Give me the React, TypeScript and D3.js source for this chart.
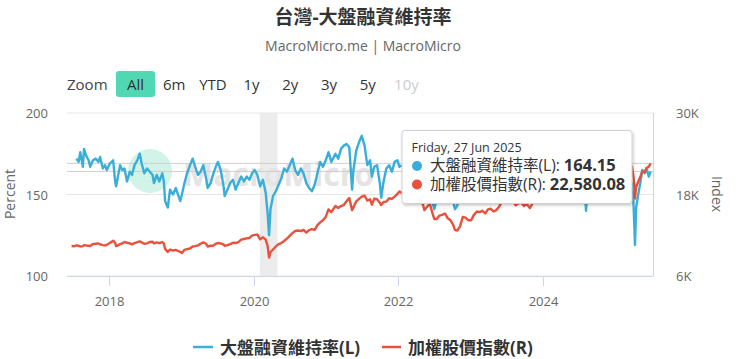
import React from 'react';
import * as d3 from 'd3';

const dates = [
  '2017-06-26','2017-07-10','2017-07-20','2017-08-01','2017-08-09','2017-08-22','2017-08-28','2017-09-07','2017-09-20','2017-09-28',
  '2017-10-12','2017-10-26','2017-11-09','2017-11-17','2017-12-01','2017-12-12','2017-12-21','2018-01-05','2018-01-22','2018-02-01',
  '2018-02-06','2018-02-15','2018-02-26','2018-03-09','2018-03-20','2018-04-02','2018-04-16','2018-04-27','2018-05-10','2018-05-24',
  '2018-06-05','2018-06-15','2018-06-28','2018-07-12','2018-07-26','2018-08-09','2018-08-16','2018-08-30','2018-09-12','2018-09-27',
  '2018-10-05','2018-10-11','2018-10-25','2018-11-05','2018-11-20','2018-12-04','2018-12-18','2018-12-27','2019-01-04','2019-01-17',
  '2019-01-30','2019-02-14','2019-02-27','2019-03-12','2019-03-26','2019-04-08','2019-04-22','2019-05-06','2019-05-14','2019-05-29',
  '2019-06-12','2019-06-24','2019-07-05','2019-07-19','2019-08-01','2019-08-08','2019-08-22','2019-09-05','2019-09-19','2019-10-02',
  '2019-10-16','2019-10-30','2019-11-13','2019-11-27','2019-12-11','2019-12-24','2020-01-07','2020-01-20','2020-02-03','2020-02-17',
  '2020-03-02','2020-03-12','2020-03-19','2020-03-26','2020-04-08','2020-04-22','2020-05-06','2020-05-20','2020-06-03','2020-06-17',
  '2020-07-01','2020-07-15','2020-07-29','2020-08-12','2020-08-26','2020-09-09','2020-09-23','2020-10-07','2020-10-21','2020-11-04',
  '2020-11-18','2020-12-02','2020-12-16','2020-12-30','2021-01-13','2021-01-27','2021-02-17','2021-03-03','2021-03-17','2021-03-31',
  '2021-04-14','2021-04-28','2021-05-12','2021-05-19','2021-06-02','2021-06-16','2021-06-30','2021-07-14','2021-07-28','2021-08-11',
  '2021-08-20','2021-09-01','2021-09-15','2021-09-29','2021-10-06','2021-10-18','2021-11-01','2021-11-15','2021-11-29','2021-12-13',
  '2021-12-27','2022-01-06','2022-01-20','2022-02-09','2022-02-24','2022-03-09','2022-03-23','2022-04-06','2022-04-20','2022-05-04',
  '2022-05-12','2022-05-26','2022-06-09','2022-06-20','2022-07-01','2022-07-13','2022-07-27','2022-08-10','2022-08-24','2022-09-07',
  '2022-09-21','2022-10-05','2022-10-13','2022-10-25','2022-11-08','2022-11-22','2022-12-06','2022-12-20','2023-01-03','2023-01-17',
  '2023-02-01','2023-02-15','2023-03-01','2023-03-15','2023-03-29','2023-04-12','2023-04-26','2023-05-10','2023-05-24','2023-06-07',
  '2023-06-21','2023-07-05','2023-07-19','2023-08-02','2023-08-16','2023-08-30','2023-09-13','2023-09-27','2023-10-11','2023-10-26',
  '2023-11-09','2023-11-22','2023-12-06','2023-12-20','2024-01-03','2024-01-17','2024-01-31','2024-02-19','2024-03-04','2024-03-18',
  '2024-04-01','2024-04-19','2024-05-02','2024-05-16','2024-05-30','2024-06-13','2024-06-27','2024-07-11','2024-07-25','2024-08-05',
  '2024-08-14','2024-08-28','2024-09-09','2024-09-23','2024-10-07','2024-10-21','2024-11-04','2024-11-18','2024-12-02','2024-12-16',
  '2024-12-30','2025-01-13','2025-01-24','2025-02-10','2025-02-24','2025-03-10','2025-03-24','2025-03-31','2025-04-07','2025-04-09',
  '2025-04-15','2025-04-24','2025-05-07','2025-05-16','2025-05-28','2025-06-06','2025-06-18','2025-06-27',
];

// 大盤融資維持率 (%), left axis
const marginRatio: (number | null)[] = [
  null, null, 172, 170, 176, 167, 178, 174, 171, 167,
  171, 172, 170, 173, 166, 168, 165, 169, 171, 158,
  155, 161, 168, 165, 166, 158, 164, 162, 168, 171,
  175, 169, 163, 166, 164, 162, 157, 162, 158, 163,
  158, 146, 142, 153, 150, 154, 149, 146, 150, 157,
  163, 168, 172, 167, 162, 164, 168, 160, 154, 157,
  163, 167, 170, 165, 156, 149, 153, 157, 159, 153,
  157, 161, 158, 161, 159, 163, 165, 162, 155, 159,
  151, 138, 125, 141, 149, 152, 156, 160, 166, 164,
  168, 172, 165, 162, 166, 163, 157, 154, 152, 156,
  163, 170, 167, 171, 176, 170, 175, 172, 178, 180,
  181, 179, 153, 165, 177, 182, 186, 180, 168, 171,
  161, 167, 168, 157, 148, 158, 166, 168, 164, 170,
  171, 167, 168, 164, 154, 156, 163, 159, 155, 150,
  146, 154, 155, 146, 141, 147, 153, 156, 158, 151,
  149, 146, 141, 143, 153, 162, 161, 157, 156, 163,
  166, 164, 166, 160, 164, 165, 161, 164, 168, 170,
  172, 169, 172, 168, 161, 164, 163, 159, 160, 156,
  163, 167, 168, 170, 168, 163, 167, 172, 174, 171,
  172, 157, 166, 172, 168, 172, 171, 176, 161, 140,
  156, 160, 155, 160, 164, 167, 164, 161, 163, 166,
  164, 160, 166, 163, 160, 154, 157, 149, 127, 119,
  142, 149, 158, 165, 163, 166, 161, 164.15,
];

// 加權股價指數, right axis
const taiex: number[] = [
  10420, 10380, 10500, 10450, 10350, 10400, 10550, 10500, 10450, 10400,
  10700, 10750, 10800, 10650, 10550, 10500, 10600, 10850, 11200, 10900,
  10400, 10500, 10700, 10800, 11000, 10900, 10800, 10650, 10850, 11000,
  11100, 10950, 10750, 10800, 11000, 11050, 10800, 10950, 10850, 11000,
  10800, 10000, 9550, 9900, 9750, 9850, 9650, 9550, 9380, 9850,
  9950, 10050, 10350, 10400, 10500, 10750, 10950, 10750, 10350, 10450,
  10500, 10750, 10850, 10800, 10650, 10450, 10550, 10700, 10900, 10850,
  11000, 11350, 11450, 11550, 11600, 11950, 12050, 12100, 11400, 11700,
  11350, 10400, 8700, 9500, 9900, 10350, 10700, 10850, 11150, 11500,
  11900, 12300, 12650, 12700, 12600, 12800, 12400, 12750, 12900, 12800,
  13500, 13900, 14200, 14700, 15800, 15400, 16300, 16000, 16300, 16450,
  17000, 17500, 15700, 16100, 17000, 17350, 17700, 17850, 17100, 17300,
  16500, 17400, 17300, 16800, 16450, 16900, 16950, 17450, 17350, 17700,
  18100, 18450, 18200, 18100, 17600, 17200, 17700, 17300, 16950, 16600,
  15700, 16200, 16600, 15400, 14400, 14400, 14900, 15000, 15200, 14500,
  14200, 13500, 12800, 12700, 13300, 14700, 14600, 14200, 14200, 15000,
  15500, 15400, 15600, 15200, 15800, 15900, 15500, 15700, 16200, 16900,
  17300, 16900, 17100, 17000, 16400, 16700, 16800, 16300, 16600, 16000,
  16700, 17350, 17300, 17600, 17650, 17300, 17900, 18800, 19600, 19800,
  20350, 19500, 20200, 21150, 21250, 22300, 22900, 24350, 22050, 19850,
  21400, 22350, 21000, 22150, 22700, 23400, 22800, 22600, 22500, 23000,
  23050, 22700, 23500, 23400, 23100, 22000, 22200, 20950, 19000, 17400,
  19100, 19800, 20700, 21400, 21300, 21900, 22100, 22580.08,
];

const leftTicks = [100, 150, 200];
const rightTicks = [6000, 18000, 30000];
const rightTickLabels = ['6K', '18K', '30K'];
const xTickDates = ['2018-01-01', '2020-01-01', '2022-01-01', '2024-01-01'];
const bandDates = ['2020-02-01', '2020-04-30'];
const rangeButtons = ['All', '6m', 'YTD', '1y', '2y', '3y', '5y', '10y'];
const tooltipDate = 'Friday, 27 Jun 2025';
const seriesNames = ['大盤融資維持率(L)', '加權股價指數(R)'];

const BLUE = '#38aed8';
const RED = '#e8523c';
const FONT = "'Open Sans', 'Noto Sans CJK TC', sans-serif";

export default function App() {
  const W = 740, H = 359;
  const X0 = 67, X1 = 653, Y0 = 113, Y1 = 276;
  const parse = d3.utcParse('%Y-%m-%d');
  const t = dates.map((d) => parse(d) as Date);
  const x = d3.scaleUtc().domain([parse('2017-06-03') as Date, parse('2025-07-09') as Date]).range([X0, X1]);
  const yL = d3.scaleLinear().domain([100, 200]).range([Y1, Y0]);
  const yR = d3.scaleLinear().domain([6000, 30000]).range([Y1, Y0]);

  const blueLine = d3.line<number>()
    .defined((i) => marginRatio[i] != null)
    .x((i) => x(t[i]))
    .y((i) => yL(marginRatio[i] as number));
  const redLine = d3.line<number>()
    .x((i) => x(t[i]))
    .y((i) => yR(taiex[i]));
  const idx = d3.range(dates.length);

  const lastBlue = marginRatio[marginRatio.length - 1] as number;
  const lastRed = taiex[taiex.length - 1];
  const fmt2 = d3.format(',.2f');

  const bx0 = x(parse(bandDates[0]) as Date);
  const bx1 = x(parse(bandDates[1]) as Date);

  return (
    <svg width={W} height={H} style={{ position: 'absolute', left: 0, top: 0, display: 'block', background: '#fff' }} fontFamily={FONT}>
      <defs>
        <filter id="tipShadow" x="-10%" y="-20%" width="130%" height="150%">
          <feDropShadow dx="1" dy="1.5" stdDeviation="1.6" floodColor="#000" floodOpacity="0.22" />
        </filter>
      </defs>

      {/* Title */}
      <text x={363} y={24} textAnchor="middle" fontSize={19} fontWeight={700} fill="#333">台灣-大盤融資維持率</text>
      <text x={363} y={51} textAnchor="middle" fontSize={14} fill="#666">MacroMicro.me | MacroMicro</text>

      {/* Range selector */}
      <text x={67} y={90} fontSize={15} fill="#444">Zoom</text>
      <rect x={116} y={71} width={39} height={26} rx={3} fill="#52d7b3" />
      {rangeButtons.map((b, i) => (
        <text key={b} x={135.5 + i * 38.7} y={90} textAnchor="middle" fontSize={15}
          fill={b === '10y' ? '#cccccc' : '#333'}>{b}</text>
      ))}

      {/* Recession band */}
      <rect x={bx0} y={Y0} width={bx1 - bx0} height={Y1 - Y0} fill="#ececec" />

      {/* Grid */}
      {leftTicks.map((v) => (
        <line key={v} x1={X0} x2={X1} y1={yL(v)} y2={yL(v)} stroke="#e6e6e6" strokeWidth={1} />
      ))}

      {/* Watermark */}
      <g>
        <circle cx={150} cy={171} r={22} fill="#d2f3e8" />
        <text x={183} y={186} fontSize={32} fontWeight={700} fill="#e4e4e4">MacroMicro</text>
      </g>

      {/* Last value lines */}
      <line x1={X0} x2={X1} y1={yR(lastRed)} y2={yR(lastRed)} stroke="#cfcfcf" strokeWidth={1} />
      <line x1={X0} x2={X1} y1={yL(lastBlue)} y2={yL(lastBlue)} stroke="#cfcfcf" strokeWidth={1} />

      {/* Axes lines */}
      <line x1={X0} x2={X1} y1={Y1 + 0.5} y2={Y1 + 0.5} stroke="#ccd6eb" strokeWidth={1} />
      <line x1={X1 + 0.5} x2={X1 + 0.5} y1={Y0} y2={Y1} stroke="#ccd6eb" strokeWidth={1} />
      {xTickDates.map((d) => {
        const xx = Math.round(x(parse(d) as Date)) + 0.5;
        return (
          <g key={d}>
            <line x1={xx} x2={xx} y1={Y1} y2={Y1 + 10} stroke="#ccd6eb" strokeWidth={1} />
            <text x={xx} y={306} textAnchor="middle" fontSize={13} fill="#666">{d.slice(0, 4)}</text>
          </g>
        );
      })}

      {/* Left axis labels */}
      {leftTicks.map((v) => (
        <text key={v} x={48} y={yL(v) + 5} textAnchor="end" fontSize={13} fill="#666">{v}</text>
      ))}
      <text transform={`translate(15,194) rotate(-90)`} textAnchor="middle" fontSize={14} fill="#666">Percent</text>

      {/* Right axis labels */}
      {rightTicks.map((v, i) => (
        <text key={v} x={676} y={yR(v) + 5} textAnchor="start" fontSize={13} fill="#666">{rightTickLabels[i]}</text>
      ))}
      <text transform={`translate(712,194) rotate(90)`} textAnchor="middle" fontSize={14} fill="#666">Index</text>

      {/* Series */}
      <path d={blueLine(idx) || ''} fill="none" stroke={BLUE} strokeWidth={2.4} strokeLinejoin="round" />
      <path d={redLine(idx) || ''} fill="none" stroke={RED} strokeWidth={2.4} strokeLinejoin="round" />

      {/* Tooltip */}
      <g>
        <rect x={402} y={130.5} width={230} height={73} rx={3} fill="#fff" stroke="#d0d0d0" strokeWidth={1} filter="url(#tipShadow)" />
        <text x={411.5} y={152} fontSize={12.5} fill="#333">{tooltipDate}</text>
        <circle cx={417} cy={166} r={5} fill={BLUE} />
        <text x={430} y={171} fontSize={15.5} fill="#333">
          {seriesNames[0]}: <tspan fontWeight={700} fontSize={16.5}>{lastBlue.toFixed(2)}</tspan>
        </text>
        <circle cx={417} cy={184.5} r={5} fill={RED} />
        <text x={430} y={190} fontSize={15.5} fill="#333">
          {seriesNames[1]}: <tspan fontWeight={700} fontSize={16.5}>{fmt2(lastRed)}</tspan>
        </text>
      </g>

      {/* Legend */}
      <line x1={193} x2={213} y1={347} y2={347} stroke={BLUE} strokeWidth={2.5} />
      <text x={220} y={354} fontSize={17} fontWeight={700} fill="#333">{seriesNames[0]}</text>
      <line x1={382} x2={401} y1={347} y2={347} stroke={RED} strokeWidth={2.5} />
      <text x={408} y={354} fontSize={17} fontWeight={700} fill="#333">{seriesNames[1]}</text>
    </svg>
  );
}
